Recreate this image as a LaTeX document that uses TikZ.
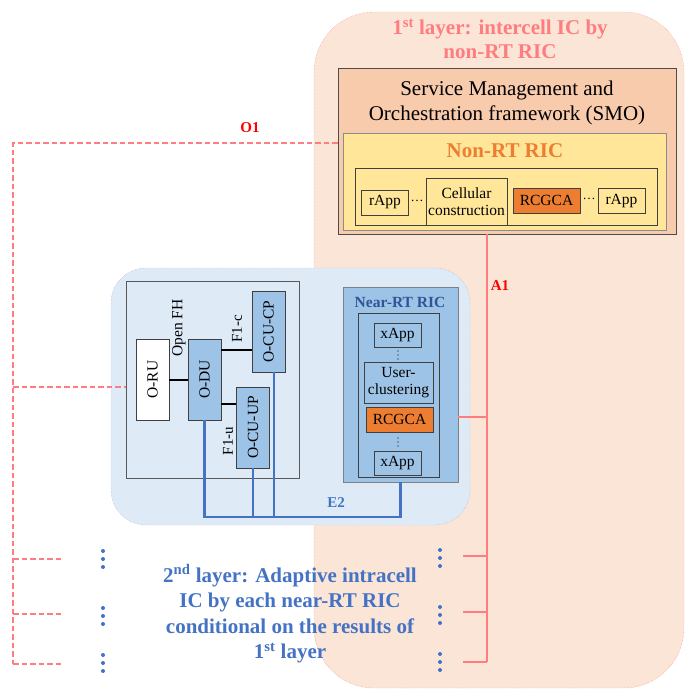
\documentclass[tikz,border=0pt]{standalone}
\usepackage{fontspec}
\setmainfont{Liberation Serif}
\usetikzlibrary{positioning}

\definecolor{peach}{HTML}{FBE5D6}
\definecolor{salmon}{HTML}{FF7C80}
\definecolor{smofill}{HTML}{F8CBAD}
\definecolor{ricyellow}{HTML}{FFE699}
\definecolor{rcorange}{HTML}{ED7D31}
\definecolor{paleblue}{HTML}{DEEBF7}
\definecolor{boxblue}{HTML}{9DC3E6}
\definecolor{linkblue}{HTML}{4472C4}
\definecolor{ricblue}{HTML}{2F5597}
\definecolor{edgeblue}{HTML}{8FAADC}
\newcommand{\fsz}[2]{\fontsize{#1}{#2}\selectfont}

\begin{document}
\begin{tikzpicture}[x=1pt, y=-1pt,
	unit/.style={draw=black!75, line width=0.7pt, inner sep=0pt, align=center, font=\fsz{15.5}{17.5}},
	blk/.style={unit, fill=boxblue, rotate=90, minimum width=81, minimum height=33},
	app/.style={unit, fill=ricyellow, minimum width=47, minimum height=25},
	xapp/.style={unit, fill=boxblue, minimum width=47, minimum height=24},
	rcgca/.style={unit, fill=rcorange, minimum width=67, minimum height=25},
	o1/.style={salmon, line width=1.8pt, dash pattern=on 5.5pt off 3pt},
	a1/.style={salmon, line width=1.8pt},
	e2/.style={linkblue, line width=2.2pt},
	tag/.style={font=\bfseries\fsz{15}{17}}]
	\useasboundingbox (0,0) rectangle (686,690);

	%first layer
	\node[draw=salmon, densely dotted, fill=peach, rounded corners=60, minimum width=370, minimum height=676] (layer1) at (499,350) {};
	\node[text=salmon, font=\bfseries\fsz{21}{24}, align=center] (title1) at (500,39) {1\textsuperscript{st} layer: intercell IC by\\non-RT RIC};

	%smo and non-rt ric
	\node[draw=black!70, line width=0.8pt, fill=smofill, minimum width=338, minimum height=166] (smo) at (507,151) {};
	\node[font=\fsz{21}{25}, align=center] (smotext) at (507,103) {Service Management and\\Orchestration framework (SMO)};
	\node[draw=black!45, line width=0.8pt, fill=ricyellow, minimum width=323, minimum height=97] (nonrt) at (504.5,181.5) {};
	\node[text=rcorange, font=\bfseries\fsz{21}{24}] (nonrttext) at (505,151) {Non-RT RIC};
	\node[unit, fill=ricyellow, minimum width=302, minimum height=57] (rgroup) at (506,196.5) {};
	\node[app] (rapp1) at (385,202.5) {rApp};
	\node[font=\fsz{13}{13}] (rdots1) at (417,201) {\dots};
	\node[unit, fill=ricyellow, minimum width=81, minimum height=47] (cellular) at (466.5,201.5) {Cellular\\construction};
	\node[rcgca] (rcgca1) at (546.5,200.5) {RCGCA};
	\node[font=\fsz{13}{13}] (rdots2) at (589,199) {\dots};
	\node[app] (rapp2) at (621.5,201) {rApp};

	%second layer region
	\node[draw=edgeblue, densely dotted, fill=paleblue, rounded corners=35, minimum width=359, minimum height=257] (layer2) at (290.5,396.5) {};
	\node[unit, draw=black!65, fill=paleblue, minimum width=173, minimum height=197] (gnb) at (212.5,379.5) {};
	\node[blk, fill=white] (oru) at (152.5,379.5) {O-RU};
	\node[blk] (odu) at (204.5,379.5) {O-DU};
	\node[blk] (ocucp) at (268.5,331.5) {O-CU-CP};
	\node[blk] (ocuup) at (253,427.5) {O-CU-UP};

	%fronthaul and f1
	\draw[line width=1.2pt] (oru.south |- 0,380) -- (odu.north |- 0,380);
	\draw[line width=1.2pt] (odu.south |- 0,350) -- (ocucp.north |- 0,350);
	\draw[line width=1.2pt] (odu.south |- 0,404) -- (ocuup.north |- 0,404);
	\node[rotate=90, font=\fsz{15.5}{17}] (fhlabel) at (179,328) {Open FH};
	\node[rotate=90, font=\fsz{15}{17}] (f1clabel) at (237,329) {F1-c};
	\node[rotate=90, font=\fsz{15}{17}] (f1ulabel) at (228,441) {F1-u};

	%near-rt ric
	\node[draw=black!50, line width=0.9pt, fill=boxblue, minimum width=115, minimum height=195] (nrt) at (400.5,384.5) {};
	\node[text=ricblue, font=\bfseries\fsz{15.5}{17}] (nrttext) at (400,302) {Near-RT RIC};
	\node[unit, fill=boxblue, minimum width=81, minimum height=164] (xgroup) at (398.5,395) {};
	\node[xapp] (xapp1) at (397.5,335) {xApp};
	\node[unit, fill=boxblue, minimum width=69, minimum height=41] (clustering) at (398.5,382.5) {User-\\clustering};
	\node[rcgca] (rcgca2) at (399.5,419.5) {RCGCA};
	\node[xapp] (xapp2) at (397.5,463.5) {xApp};
	\foreach \y in {355,442}
		\foreach \d in {-4,0,4}
			\fill (398,\y+\d) circle (0.7pt);

	%e2
	\coordinate (e2bus) at (0,517);
	\draw[e2] (odu.west) |- (e2bus -| nrt.south) -- (nrt.south);
	\draw[e2] (ocuup.west) -- (ocuup.west |- e2bus);
	\draw[e2] ([xshift=5.5]ocucp.west) -- ([xshift=5.5]ocucp.west |- e2bus);
	\node[tag, text=linkblue] (e2label) at (336,503) {E2};

	%a1
	\coordinate (a1top) at (smo.south -| 487,0);
	\coordinate (a1bot) at (487,662);
	\draw[a1] (a1top) -- (a1bot);
	\coordinate (a1nrt) at (487,417);
	\draw[a1] (a1nrt) -- (a1nrt -| nrt.east);
	\foreach \y [count=\i] in {556,612,662} {
		\coordinate (rb\i) at (463,\y);
		\draw[a1] (rb\i) -- (rb\i -| a1top);
	}
	\node[tag, text=red] (a1label) at (500,286) {A1};

	%o1
	\coordinate (o1top) at (13,143);
	\draw[o1] (smo.west |- o1top) -- (o1top) -- (13,664);
	\coordinate (o1gnb) at (13,387);
	\draw[o1] (o1gnb) -- (o1gnb -| gnb.west);
	\foreach \y [count=\i] in {559,614,664} {
		\coordinate (lb\i) at (63,\y);
		\draw[o1] (lb\i -| o1top) -- (lb\i);
	}
	\node[tag, text=red] (o1label) at (250,128) {O1};

	%more cells
	\foreach \y in {559,616,663} {
		\foreach \d in {-8,0,8} {
			\fill[linkblue] (103,\y+\d) circle (2pt);
			\fill[linkblue] (440,\y-1+\d) circle (2pt);
		}
	}

	%second layer
	\node[text=linkblue, font=\bfseries\fsz{21}{25.5}, align=center] (title2) at (290,614) {2\textsuperscript{nd} layer: Adaptive intracell\\IC by each near-RT RIC\\conditional on the results of\\1\textsuperscript{st} layer};
\end{tikzpicture}
\end{document}
